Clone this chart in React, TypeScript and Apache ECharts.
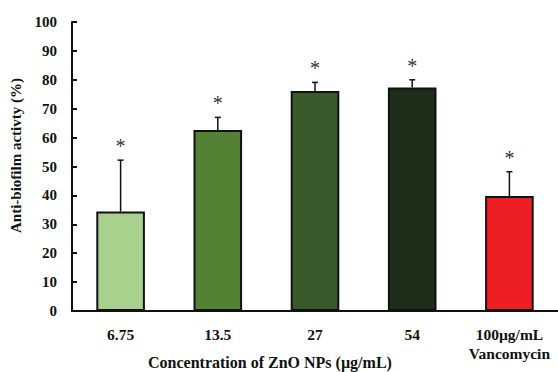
import React, { useEffect, useRef } from "react";
import * as echarts from "echarts";

const categories = ["6.75", "13.5", "27", "54", "100µg/mL\nVancomycin"];
const values = [34.4, 62.6, 76.1, 77.3, 39.8];
const errors = [17.8, 4.4, 3.0, 2.7, 8.4];
const colors = ["#a9d18e", "#548235", "#3b5a2c", "#1c2e18", "#ee1f24"];
const yTicks = [0, 10, 20, 30, 40, 50, 60, 70, 80, 90, 100];

const FONT = "'Liberation Serif', 'Times New Roman', serif";

export default function App() {
  const ref = useRef<HTMLDivElement>(null);
  useEffect(() => {
    document.body.style.margin = "0";
    const chart = echarts.init(ref.current!, null, { renderer: "svg" });
    const option = {
      animation: false,
      backgroundColor: "#ffffff",
      grid: { left: 72, top: 22, width: 488, height: 289, containLabel: false },
      xAxis: {
        type: "category",
        data: categories,
        axisLine: { lineStyle: { color: "#111", width: 2 } },
        axisTick: { show: false },
        axisLabel: {
          interval: 0,
          fontFamily: FONT,
          fontWeight: "bold",
          fontSize: 15.5,
          color: "#111",
          margin: 14,
          lineHeight: 19,
        },
      },
      yAxis: {
        type: "value",
        min: yTicks[0],
        max: yTicks[yTicks.length - 1],
        interval: 10,
        splitLine: { show: false },
        axisLine: { show: true, lineStyle: { color: "#111", width: 2 } },
        axisTick: { show: true, inside: true, length: 5, lineStyle: { color: "#111", width: 2 } },
        axisLabel: {
          fontFamily: FONT,
          fontWeight: "bold",
          fontSize: 15,
          color: "#111",
          margin: 15,
        },
        name: "Anti-biofilm activty (%)",
        nameLocation: "middle",
        nameGap: 47,
        nameTextStyle: {
          fontFamily: FONT,
          fontWeight: "bold",
          fontSize: 15,
          color: "#111",
          padding: [0, 0, 0, 22],
        },
      },
      graphic: [
        {
          type: "text",
          left: 148,
          top: 354,
          style: {
            text: "Concentration of ZnO NPs (µg/mL)",
            font: `bold 16px ${FONT}`,
            fill: "#111",
          },
        },
      ],
      series: [
        {
          type: "bar",
          barWidth: "50%",
          data: values.map((v, i) => ({
            value: v,
            itemStyle: { color: colors[i], borderColor: "#111", borderWidth: 2 },
          })),
        },
        {
          type: "custom",
          data: values.map((v, i) => [i, v, v + errors[i]]),
          renderItem: (params: any, api: any) => {
            const x = api.value(0);
            const base = api.coord([x, api.value(1)]);
            const top = api.coord([x, api.value(2)]);
            return {
              type: "group",
              children: [
                {
                  type: "line",
                  shape: { x1: base[0], y1: base[1], x2: top[0], y2: top[1] },
                  style: { stroke: "#111", lineWidth: 1.5 },
                },
                {
                  type: "line",
                  shape: { x1: top[0] - 3, y1: top[1], x2: top[0] + 3, y2: top[1] },
                  style: { stroke: "#111", lineWidth: 1.5 },
                },
                {
                  type: "text",
                  x: top[0],
                  y: top[1] - 14,
                  style: {
                    text: "*",
                    font: `20px ${FONT}`,
                    fill: "#333",
                    align: "center",
                    verticalAlign: "middle",
                  },
                },
              ],
            };
          },
          z: 5,
        },
      ],
    };
    chart.setOption(option as any);
    return () => chart.dispose();
  }, []);
  return <div ref={ref} style={{ width: 558, height: 372 }} />;
}
